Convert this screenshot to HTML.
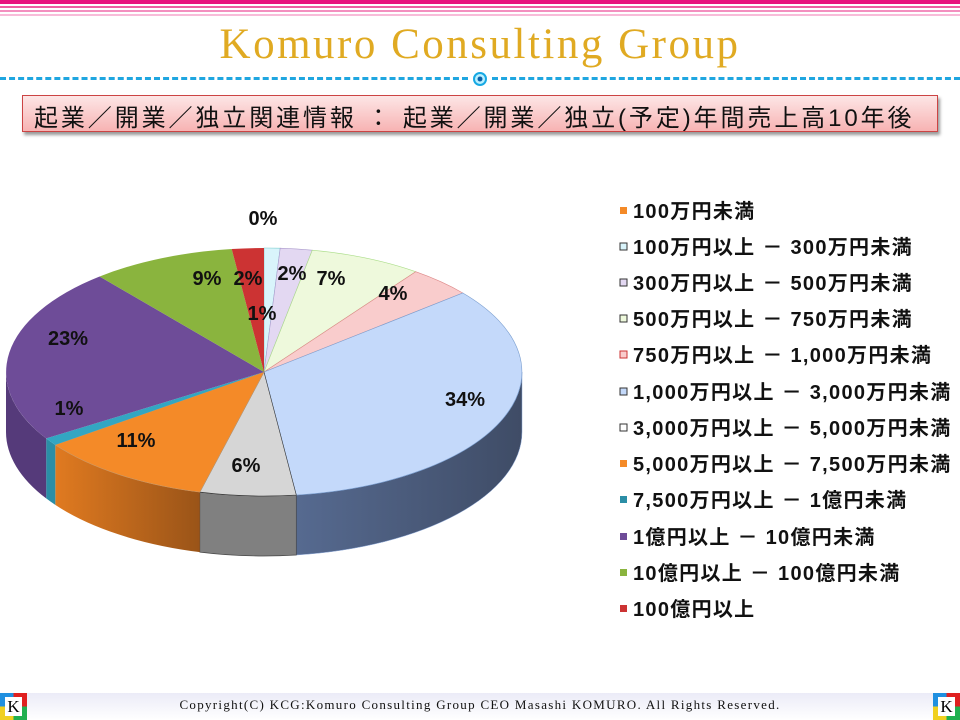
<!DOCTYPE html>
<html><head><meta charset="utf-8"><style>
body{margin:0;width:960px;height:720px;overflow:hidden;background:#fff;position:relative;font-family:"Liberation Sans","Noto Sans CJK JP",sans-serif}
.abs{position:absolute}
</style></head><body>
<div class="abs" style="left:0;top:0;width:960px;height:4px;background:#e8137f"></div>
<div class="abs" style="left:0;top:6px;width:960px;height:2px;background:#ee5fa3"></div>
<div class="abs" style="left:0;top:10px;width:960px;height:2px;background:#f38fbf"></div>
<div class="abs" style="left:0;top:14px;width:960px;height:2px;background:#f8bcd9"></div>
<div class="abs" style="left:0;top:20px;width:960px;text-align:center;font-family:'Liberation Serif','Noto Serif CJK SC',serif;font-size:43px;color:#e0aa22;letter-spacing:2.5px">Komuro Consulting Group</div>
<div class="abs" style="left:0;top:77px;width:468px;border-top:3px dashed #1fa6e0"></div>
<div class="abs" style="left:492px;top:77px;width:468px;border-top:3px dashed #1fa6e0"></div>
<div class="abs" style="left:473px;top:72px;width:10px;height:10px;border-radius:50%;border:2px solid #17a8e3;background:radial-gradient(#0a5fa8 30%,#b8f0ff 40%)"></div>
<div class="abs" style="left:22px;top:95px;width:914px;height:35px;border:1px solid #c44;background:linear-gradient(#fde6e6,#f7b3b3);box-shadow:2px 3px 3px #999"></div>
<div class="abs" style="left:34px;top:98px;font-size:24px;color:#111;white-space:nowrap;letter-spacing:2.9px">起業／開業／独立関連情報 ： 起業／開業／独立(予定)年間売上高10年後</div>

<svg class="abs" style="left:0;top:0" width="960" height="720">
<defs>
<linearGradient id="sb" x1="0" x2="1"><stop offset="0" stop-color="#566a90"/><stop offset="1" stop-color="#3f4c66"/></linearGradient>
<linearGradient id="so" x1="0" x2="1"><stop offset="0" stop-color="#e07a20"/><stop offset="1" stop-color="#9a5418"/></linearGradient>
</defs>
<path d="M522,372 A258,124 0 0 1 296.3,495 L296.3,555 A258,124 0 0 0 522,432 Z" fill="url(#sb)" stroke="#8ea9d8" stroke-width="0.5"/>
<path d="M296.3,495 A258,124 0 0 1 199.8,492.1 L199.8,552.1 A258,124 0 0 0 296.3,555 Z" fill="#808080" stroke="#444" stroke-width="0.7"/>
<path d="M199.8,492.1 A258,124 0 0 1 55.3,444.9 L55.3,504.9 A258,124 0 0 0 199.8,552.1 Z" fill="url(#so)"/>
<path d="M55.3,444.9 A258,124 0 0 1 46.2,438.4 L46.2,498.4 A258,124 0 0 0 55.3,504.9 Z" fill="#2b8ea6"/>
<path d="M46.2,438.4 A258,124 0 0 1 6,372 L6,432 A258,124 0 0 0 46.2,498.4 Z" fill="#553a7a"/>
<g stroke-width="0.6">
<path d="M264,372 L264,248 A258,124 0 0 1 280.2,248.2 Z" fill="#d9f4fb" stroke="#7cc"/>
<path d="M264,372 L280.2,248.2 A258,124 0 0 1 312.3,250.2 Z" fill="#e3d8f2" stroke="#a9c"/>
<path d="M264,372 L312.3,250.2 A258,124 0 0 1 415.7,271.7 Z" fill="#eef9dc" stroke="#ad8"/>
<path d="M264,372 L415.7,271.7 A258,124 0 0 1 462.8,293 Z" fill="#f9cccc" stroke="#d88"/>
<path d="M264,372 L462.8,293 A258,124 0 0 1 296.3,495 Z" fill="#c4d9fa" stroke="#7b9fd0"/>
<path d="M264,372 L296.3,495 A258,124 0 0 1 199.8,492.1 Z" fill="#d6d6d6" stroke="#333"/>
<path d="M264,372 L199.8,492.1 A258,124 0 0 1 55.3,444.9 Z" fill="#f48a28" stroke="#c96"/>
<path d="M264,372 L55.3,444.9 A258,124 0 0 1 46.2,438.4 Z" fill="#33a6c2"/>
<path d="M264,372 L46.2,438.4 A258,124 0 0 1 99.6,276.5 Z" fill="#6e4c98"/>
<path d="M264,372 L99.6,276.5 A258,124 0 0 1 231.7,249 Z" fill="#8ab43e"/>
<path d="M264,372 L231.7,249 A258,124 0 0 1 264,248 Z" fill="#cc3333"/>
</g>
<g font-family="Liberation Sans" font-weight="bold" font-size="20" fill="#111" text-anchor="middle">
<text x="263" y="225">0%</text>
<text x="207" y="285">9%</text>
<text x="248" y="285">2%</text>
<text x="292" y="280">2%</text>
<text x="331" y="285">7%</text>
<text x="393" y="300">4%</text>
<text x="262" y="320">1%</text>
<text x="68" y="345">23%</text>
<text x="465" y="406">34%</text>
<text x="69" y="415">1%</text>
<text x="136" y="447">11%</text>
<text x="246" y="472">6%</text>
</g>
<g font-family="Liberation Sans,Noto Sans CJK JP,sans-serif" font-weight="bold" font-size="20" fill="#111" letter-spacing="1.3">
<rect x="620" y="207" width="7" height="7" fill="#f48a28"/><text x="633" y="218">100万円未満</text>
<rect x="620" y="243" width="7" height="7" fill="#d9f4fb" stroke="#333"/><text x="633" y="254">100万円以上 － 300万円未満</text>
<rect x="620" y="279" width="7" height="7" fill="#e3d8f2" stroke="#333"/><text x="633" y="290">300万円以上 － 500万円未満</text>
<rect x="620" y="315" width="7" height="7" fill="#eef9dc" stroke="#333"/><text x="633" y="326">500万円以上 － 750万円未満</text>
<rect x="620" y="351" width="7" height="7" fill="#f9cccc" stroke="#c33"/><text x="633" y="362">750万円以上 － 1,000万円未満</text>
<rect x="620" y="388" width="7" height="7" fill="#c4d9fa" stroke="#333"/><text x="633" y="399">1,000万円以上 － 3,000万円未満</text>
<rect x="620" y="424" width="7" height="7" fill="#fff" stroke="#333"/><text x="633" y="435">3,000万円以上 － 5,000万円未満</text>
<rect x="620" y="460" width="7" height="7" fill="#f48a28"/><text x="633" y="471">5,000万円以上 － 7,500万円未満</text>
<rect x="620" y="496" width="7" height="7" fill="#2b8ea6"/><text x="633" y="507">7,500万円以上 － 1億円未満</text>
<rect x="620" y="533" width="7" height="7" fill="#6e4c98"/><text x="633" y="544">1億円以上 － 10億円未満</text>
<rect x="620" y="569" width="7" height="7" fill="#8ab43e"/><text x="633" y="580">10億円以上 － 100億円未満</text>
<rect x="620" y="605" width="7" height="7" fill="#cc3333"/><text x="633" y="616">100億円以上</text>
</g>
</svg>

<div class="abs" style="left:0;top:693px;width:960px;height:27px;background:linear-gradient(#ebebf7,#fff)"></div>
<div class="abs" style="left:0;top:697px;width:960px;text-align:center;font-family:'Liberation Serif',serif;font-size:13px;color:#111;letter-spacing:1.3px;white-space:nowrap">Copyright(C)  KCG:Komuro Consulting Group  CEO Masashi KOMURO. All Rights Reserved.</div>
<div class="abs" style="left:0;top:693px;width:27px;height:27px;background:conic-gradient(#e02020 0 25%,#20b050 25% 50%,#f0d020 50% 75%,#2090e0 75%);"></div>
<div class="abs" style="left:5px;top:697px;width:17px;height:19px;background:#fff;font-family:'Liberation Serif',serif;font-size:17px;text-align:center;line-height:19px">K</div>
<div class="abs" style="left:933px;top:693px;width:27px;height:27px;background:conic-gradient(#e02020 0 25%,#20b050 25% 50%,#f0d020 50% 75%,#2090e0 75%);"></div>
<div class="abs" style="left:938px;top:697px;width:17px;height:19px;background:#fff;font-family:'Liberation Serif',serif;font-size:17px;text-align:center;line-height:19px">K</div>
</body></html>
